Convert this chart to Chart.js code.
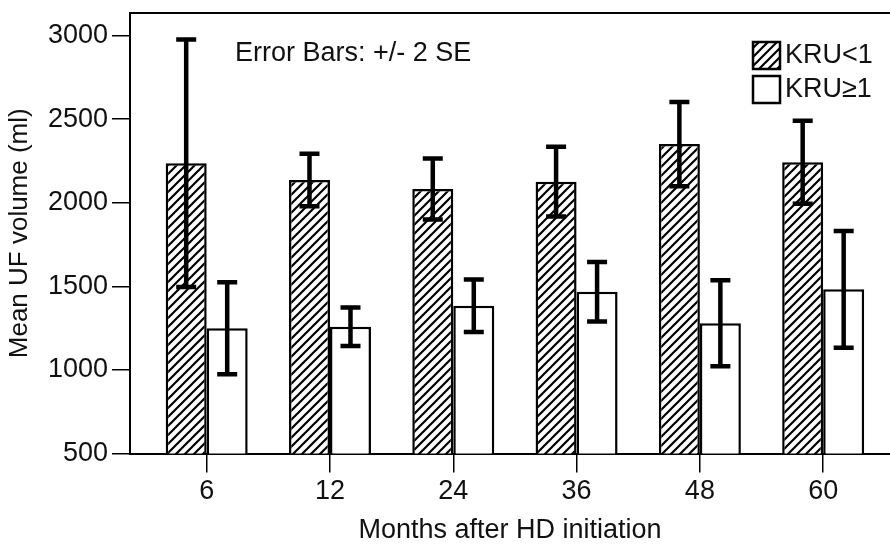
<!DOCTYPE html>
<html>
<head>
<meta charset="utf-8">
<title>Mean UF volume by KRU</title>
<script src="https://cdn.jsdelivr.net/npm/chart.js"></script>
<style>
    html, body { margin: 0; padding: 0; background: #fff; }
    #wrap { width: 890px; height: 547px; position: relative; }
</style>
</head>
<body>
<div id="wrap"><canvas id="bar-chart-area"></canvas></div>
<script>
// values (ml), error = 2 SE
var months = ['6', '12', '24', '36', '48', '60'];
var kruLow = [2236, 2136, 2082, 2126, 2351, 2242];
var kruLowErr = [740, 157, 182, 209, 252, 248];
var kruHigh = [1249, 1258, 1384, 1468, 1279, 1482];
var kruHighErr = [275, 115, 157, 178, 257, 349];
var yTicks = [500, 1000, 1500, 2000, 2500, 3000];
var seriesNames = ['KRU<1', 'KRU\u22651'];

var FONT = "'Liberation Sans', Arial, sans-serif";
var INK = '#111';

function makeHatch() {
    var c = document.createElement('canvas');
    c.width = 9;
    c.height = 9;
    var g = c.getContext('2d');
    g.fillStyle = '#fff';
    g.fillRect(0, 0, 9, 9);
    g.strokeStyle = '#000';
    g.lineWidth = 2.2;
    g.beginPath();
    g.moveTo(0, 9); g.lineTo(9, 0);
    g.moveTo(-3, 3); g.lineTo(3, -3);
    g.moveTo(6, 12); g.lineTo(12, 6);
    g.stroke();
    return g.createPattern(c, 'repeat');
}
var hatch = makeHatch();

function toPoints(arr) {
    return arr.map(function (v, i) { return {x: i, y: v}; });
}

// frame, error bars, legend and note
var extras = {
    id: 'extras',
    afterDatasetsDraw: function (chart) {
        var ctx = chart.ctx;
        var ys = chart.scales.y;
        var area = chart.chartArea;
        var errs = [kruLowErr, kruHighErr];
        var means = [kruLow, kruHigh];
        ctx.save();
        ctx.strokeStyle = '#000';
        ctx.lineCap = 'butt';
        for (var d = 0; d < 2; d++) {
            var meta = chart.getDatasetMeta(d);
            meta.data.forEach(function (bar, j) {
                var top = ys.getPixelForValue(means[d][j] + errs[d][j]);
                var bot = ys.getPixelForValue(means[d][j] - errs[d][j]);
                ctx.lineWidth = 4.5;
                ctx.beginPath();
                ctx.moveTo(bar.x, top);
                ctx.lineTo(bar.x, bot);
                ctx.moveTo(bar.x - 10, top);
                ctx.lineTo(bar.x + 10, top);
                ctx.moveTo(bar.x - 10, bot);
                ctx.lineTo(bar.x + 10, bot);
                ctx.stroke();
            });
        }
        // plot frame (right side runs off the picture)
        ctx.lineWidth = 2;
        ctx.beginPath();
        ctx.moveTo(area.right + 5, area.top);
        ctx.lineTo(area.left, area.top);
        ctx.lineTo(area.left, area.bottom);
        ctx.stroke();

        ctx.fillStyle = INK;
        ctx.font = '27px ' + FONT;
        ctx.textBaseline = 'middle';
        ctx.textAlign = 'left';
        ctx.fillText('Error Bars: +/- 2 SE', 235, 54);

        var fills = [hatch, '#fff'];
        for (var k = 0; k < 2; k++) {
            var by = 42 + k * 34;
            ctx.fillStyle = fills[k];
            ctx.fillRect(753, by, 27, 27);
            ctx.lineWidth = 2.5;
            ctx.strokeRect(753, by, 27, 27);
            ctx.fillStyle = INK;
            ctx.font = '27px ' + FONT;
            ctx.fillText(chart.data.datasets[k].label, 785, by + 14);
        }
        ctx.restore();
    }
};

var configBar = {
    type: 'bar',
    data: {
        datasets: [
            {
                label: seriesNames[0],
                data: toPoints(kruLow),
                backgroundColor: hatch,
                borderColor: '#000',
                borderWidth: 2.5
            }, {
                label: seriesNames[1],
                data: toPoints(kruHigh),
                backgroundColor: '#fff',
                borderColor: '#000',
                borderWidth: 2.5
            }]
    },
    options: {
        responsive: true,
        maintainAspectRatio: false,
        animation: false,
        events: [],
        categoryPercentage: 0.665,
        barPercentage: 1,
        layout: {padding: {top: 13, left: 0, right: 0, bottom: 0}},
        plugins: {
            legend: {display: false},
            tooltip: {enabled: false}
        },
        scales: {
            x: {
                type: 'linear',
                offset: false,
                min: -0.622,
                max: 5.542,
                afterBuildTicks: function (scale) {
                    scale.ticks = months.map(function (m, i) { return {value: i}; });
                },
                afterFit: function (scale) {
                    scale.height = 93.5;
                    scale.paddingLeft = 0;
                    scale.paddingRight = 0;
                },
                ticks: {
                    color: INK,
                    font: {family: FONT, size: 27},
                    padding: 3,
                    maxRotation: 0,
                    autoSkip: false,
                    callback: function (v) { return months[v]; }
                },
                grid: {offset: false, drawOnChartArea: false, tickLength: 19, color: '#000', lineWidth: 1.5},
                border: {color: '#000', width: 2},
                title: {
                    display: true,
                    text: 'Months after HD initiation',
                    color: INK,
                    font: {family: FONT, size: 27},
                    padding: {top: 0, bottom: 0}
                }
            },
            y: {
                min: 500,
                max: 3135,
                afterBuildTicks: function (scale) {
                    scale.ticks = yTicks.map(function (v) { return {value: v}; });
                },
                afterFit: function (scale) {
                    scale.width = 130;
                    scale.paddingTop = 0;
                    scale.paddingBottom = 0;
                },
                ticks: {
                    color: INK,
                    font: {family: FONT, size: 27},
                    padding: 4,
                    callback: function (v) { return String(v); }
                },
                grid: {drawOnChartArea: false, tickLength: 18, color: '#000', lineWidth: 1.5},
                border: {color: '#000', width: 2},
                title: {
                    display: true,
                    text: 'Mean UF volume (ml)',
                    color: INK,
                    font: {family: FONT, size: 26},
                    padding: {top: 4, bottom: 0}
                }
            }
        }
    },
    plugins: [extras]
};

var myChartBar = document.getElementById('bar-chart-area').getContext('2d');
var myBar = new Chart(myChartBar, configBar);
</script>
</body>
</html>
